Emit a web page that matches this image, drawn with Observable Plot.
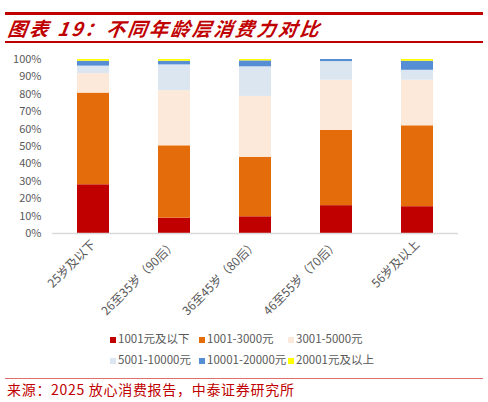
<!DOCTYPE html>
<html><head><meta charset="utf-8">
<script src="https://cdn.jsdelivr.net/npm/d3@7"></script>
<script src="https://cdn.jsdelivr.net/npm/@observablehq/plot@0.6"></script>
<style>
body{margin:0;width:488px;height:402px;position:relative;background:#fff;overflow:hidden;font-family:"Noto Sans CJK SC","Noto Sans",sans-serif;}
.abs{position:absolute;}
.title{left:8px;top:15px;font-size:19px;line-height:26px;font-weight:bold;font-style:italic;color:#c00000;transform:skewX(-8deg);letter-spacing:2.5px;white-space:nowrap;}
.leg{font-size:11.5px;color:#595959;white-space:nowrap;line-height:14px;}
.sw{display:inline-block;width:6px;height:6px;margin-right:2px;vertical-align:0px;}
.src{left:7px;top:379px;font-size:14px;line-height:20px;color:#c00000;letter-spacing:0.7px;white-space:nowrap;}
</style></head>
<body>
<div class="abs" style="left:5px;top:12px;width:478px;height:3px;background:#c00000"></div>
<div class="abs title">图表 19：不同年龄层消费力对比</div>
<div class="abs" style="left:5px;top:41px;width:478px;height:1.5px;background:#c00000"></div>
<div id="chart" class="abs" style="left:0;top:48px"></div>
<div id="legend"></div>
<div class="abs" style="left:5px;top:378px;width:478px;height:1px;background:#e07070"></div>
<div class="abs src">来源：2025 放心消费报告，中泰证券研究所</div>
<script>
const ages = ["25岁及以下","26至35岁（90后）","36至45岁（80后）","46至55岁（70后）","56岁及以上"];
const categories = ["1001元及以下","1001-3000元","3001-5000元","5001-10000元","10001-20000元","20001元及以上"];
const colors = ["#c00000","#e46c0a","#fde9d9","#dce6f1","#558ed5","#ffff00"];
const s1 = [28.0, 8.8, 9.6, 16.0, 15.4];
const s2 = [52.7, 41.6, 34.2, 43.2, 46.5];
const s3 = [11.2, 31.7, 35.0, 28.9, 26.2];
const s4 = [4.3, 14.8, 17.0, 10.7, 5.7];
const s5 = [2.8, 2.1, 3.4, 1.2, 5.2];
const s6 = [1.0, 1.0, 0.8, 0.0, 1.0];
const yTicks = [0,10,20,30,40,50,60,70,80,90,100];

const series = [s1,s2,s3,s4,s5,s6];
const data = [];
ages.forEach((a,i)=>series.forEach((s,j)=>data.push({age:a, cat:categories[j], value:s[i]})));

const plot = Plot.plot({
  width: 488, height: 270,
  marginLeft: 52, marginRight: 30, marginTop: 11, marginBottom: 85,
  style: {fontFamily: '"Noto Sans CJK SC","Noto Sans",sans-serif', fontSize: "11px", color: "#595959", background: "transparent"},
  x: {domain: ages, paddingInner: 0.6, paddingOuter: 0.3, label: null},
  y: {domain: [0,100], label: null},
  color: {domain: categories, range: colors},
  marks: [
    Plot.barY(data, {x: "age", y: "value", fill: "cat"}),
    Plot.axisY({ticks: yTicks, tickFormat: d => d + "%", tickSize: 0, tickPadding: 11, label: null, fontSize: 11}),
    Plot.axisX({tickSize: 0, tickPadding: 9, tickRotate: -45, label: null, fontSize: 12}),
    Plot.ruleY([0], {stroke: "#d9d9d9", strokeWidth: 1.5})
  ]
});
document.getElementById("chart").appendChild(plot);

const legPos = [[110,331],[199,331],[288,331],[110,352],[199,352],[288,352]];
const leg = document.getElementById("legend");
categories.forEach((c,i)=>{
  const d = document.createElement("div");
  d.className = "abs leg";
  d.style.left = legPos[i][0] + "px";
  d.style.top = legPos[i][1] + "px";
  d.innerHTML = `<span class="sw" style="background:${colors[i]}"></span>${c}`;
  leg.appendChild(d);
});
</script>
</body></html>
